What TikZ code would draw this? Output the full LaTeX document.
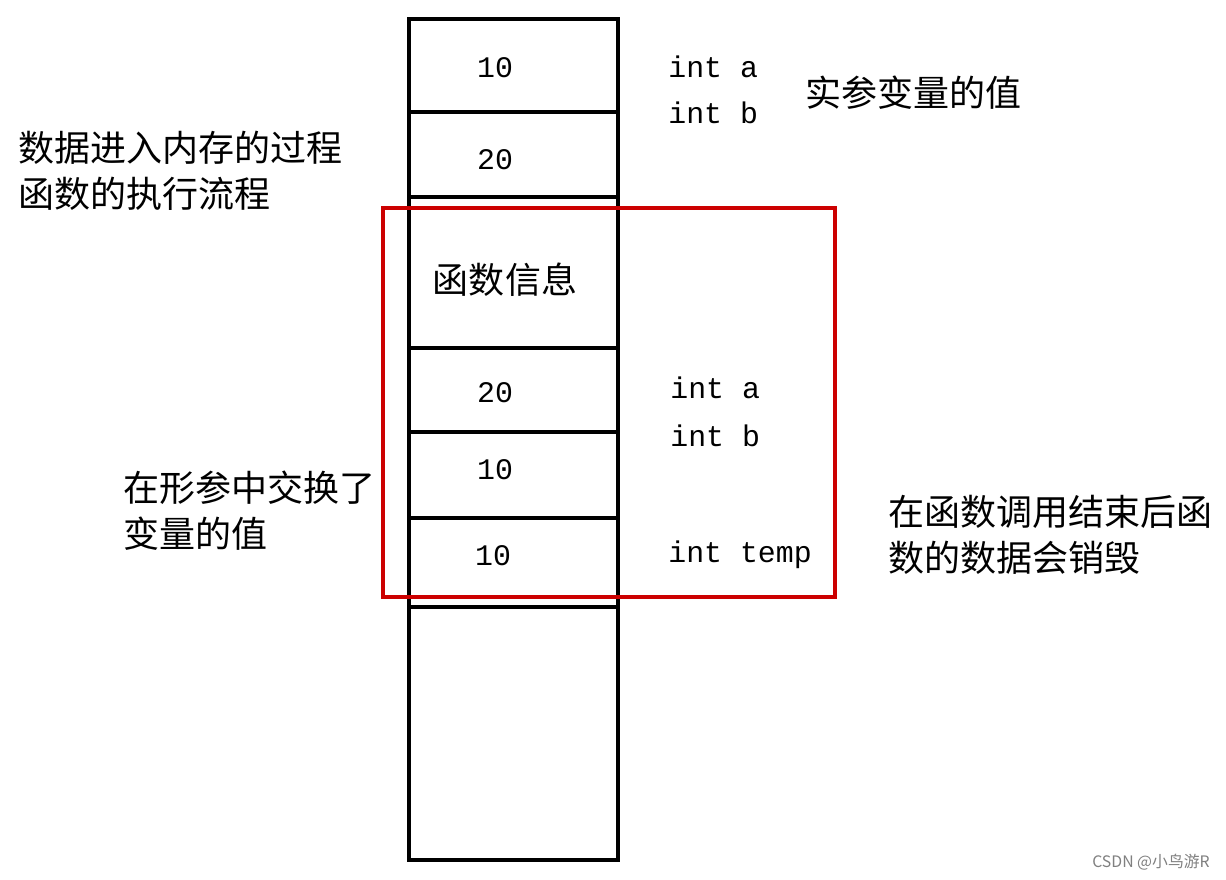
\documentclass[tikz,border=0pt]{standalone}
\usepackage{fontspec}
\newfontfamily\cjk{Noto Sans CJK SC}
\newfontfamily\mono{Liberation Mono}
\begin{document}
\begin{tikzpicture}[x=0.02cm,y=-0.02cm,
  cell/.style={draw=black,line width=2.4pt},
  zh/.style={font=\cjk\fontsize{20.5}{26}\selectfont,anchor=west,align=left,inner sep=0},
  code/.style={font=\mono\fontsize{17}{22}\selectfont,anchor=west,inner sep=0},
  num/.style={font=\mono\fontsize{17}{22}\selectfont,inner sep=0}]
\useasboundingbox (0,0) rectangle (1226,879);
\fill[white] (0,0) rectangle (1226,879);
\draw[cell] (409,19) rectangle (618,860);
\foreach \yy in {112,197,348,432,518,607} \draw[cell] (409,\yy) -- (618,\yy);
\draw[red!80!black,line width=1.8pt] (383,208) rectangle (835,597);
\node[num] (n1) at (495,68) {10};
\node[num] (n2) at (495,160) {20};
\node[zh,anchor=center] (f) at (505,280) {函数信息};
\node[num] (n3) at (495,393) {20};
\node[num] (n4) at (495,470) {10};
\node[num] (n5) at (493,556) {10};
\node[code] (c1) at (668,67) {int a};
\node[code] (c2) at (668,113) {int b};
\node[code] (c3) at (670,388) {int a};
\node[code] (c4) at (670,436) {int b};
\node[code] (c5) at (668,555) {int temp};
\node[zh] (t1) at (805,93) {实参变量的值};
\node[zh] (t2) at (18,171) {数据进入内存的过程\\函数的执行流程};
\node[zh] (t3) at (123,511) {在形参中交换了\\变量的值};
\node[zh] (t4) at (888,535) {在函数调用结束后函\\数的数据会销毁};
\node[font=\cjk\fontsize{9}{10}\selectfont,text=gray,anchor=east,inner sep=0] (w) at (1210,862) {CSDN @小鸟游R};
\end{tikzpicture}
\end{document}
